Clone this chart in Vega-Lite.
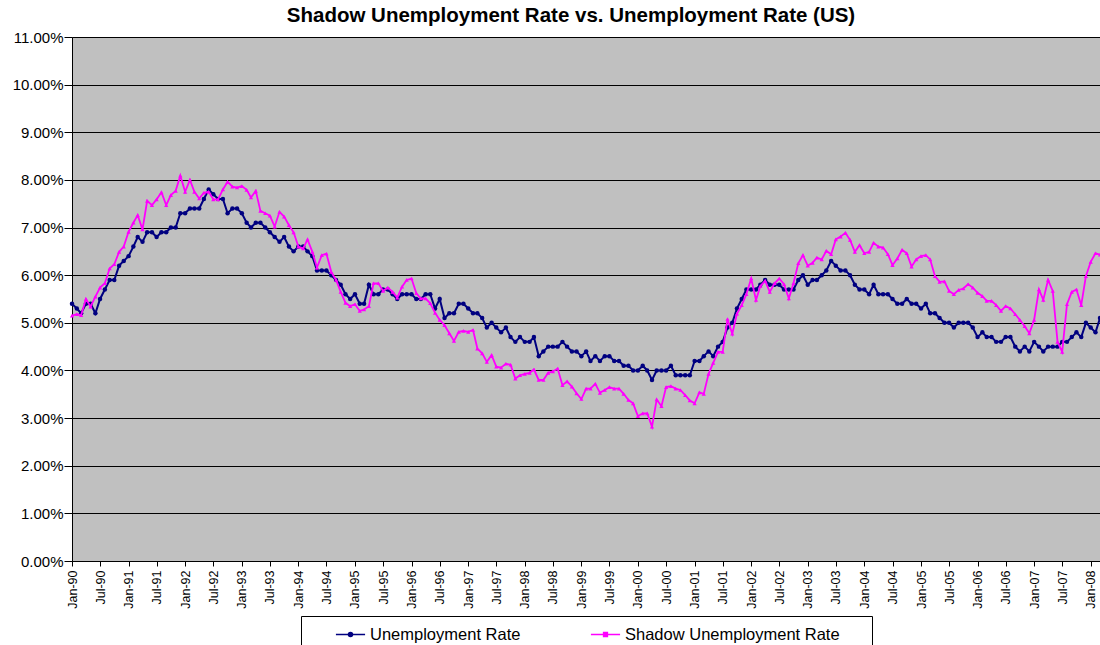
{
  "$schema": "https://vega.github.io/schema/vega-lite/v6.json",
  "width": 1028,
  "height": 524,
  "autosize": "none",
  "padding": {"left": 72, "top": 37, "right": 0, "bottom": 84},
  "background": "white",
  "config": {
    "font": "Liberation Sans",
    "view": {"fill": "#C0C0C0", "stroke": null},
    "axis": {"domainColor": "#000000", "tickColor": "#000000", "labelColor": "#000000", "gridColor": "#000000", "gridOpacity": 1, "gridWidth": 1, "labelFont": "Liberation Sans"}
  },
  "title": {
    "text": "Shadow Unemployment Rate vs. Unemployment Rate (US)",
    "fontSize": 20.5,
    "fontWeight": "bold",
    "font": "Liberation Sans",
    "color": "#000000",
    "anchor": "middle",
    "dx": -15,
    "dy": 25,
    "baseline": "alphabetic",
    "offset": 13
  },
  "data": {
    "values": [
      {"d":"1990-01-01","Unemployment Rate":5.4,"Shadow Unemployment Rate":5.15},
      {"d":"1990-02-01","Unemployment Rate":5.3,"Shadow Unemployment Rate":5.18},
      {"d":"1990-03-01","Unemployment Rate":5.2,"Shadow Unemployment Rate":5.16},
      {"d":"1990-04-01","Unemployment Rate":5.4,"Shadow Unemployment Rate":5.5},
      {"d":"1990-05-01","Unemployment Rate":5.4,"Shadow Unemployment Rate":5.34},
      {"d":"1990-06-01","Unemployment Rate":5.2,"Shadow Unemployment Rate":5.55},
      {"d":"1990-07-01","Unemployment Rate":5.5,"Shadow Unemployment Rate":5.74},
      {"d":"1990-08-01","Unemployment Rate":5.7,"Shadow Unemployment Rate":5.83},
      {"d":"1990-09-01","Unemployment Rate":5.9,"Shadow Unemployment Rate":6.14},
      {"d":"1990-10-01","Unemployment Rate":5.9,"Shadow Unemployment Rate":6.23},
      {"d":"1990-11-01","Unemployment Rate":6.2,"Shadow Unemployment Rate":6.49},
      {"d":"1990-12-01","Unemployment Rate":6.3,"Shadow Unemployment Rate":6.6},
      {"d":"1991-01-01","Unemployment Rate":6.4,"Shadow Unemployment Rate":6.91},
      {"d":"1991-02-01","Unemployment Rate":6.6,"Shadow Unemployment Rate":7.1},
      {"d":"1991-03-01","Unemployment Rate":6.8,"Shadow Unemployment Rate":7.26},
      {"d":"1991-04-01","Unemployment Rate":6.7,"Shadow Unemployment Rate":6.96},
      {"d":"1991-05-01","Unemployment Rate":6.9,"Shadow Unemployment Rate":7.56},
      {"d":"1991-06-01","Unemployment Rate":6.9,"Shadow Unemployment Rate":7.47},
      {"d":"1991-07-01","Unemployment Rate":6.8,"Shadow Unemployment Rate":7.59},
      {"d":"1991-08-01","Unemployment Rate":6.9,"Shadow Unemployment Rate":7.74},
      {"d":"1991-09-01","Unemployment Rate":6.9,"Shadow Unemployment Rate":7.47},
      {"d":"1991-10-01","Unemployment Rate":7.0,"Shadow Unemployment Rate":7.68},
      {"d":"1991-11-01","Unemployment Rate":7.0,"Shadow Unemployment Rate":7.77},
      {"d":"1991-12-01","Unemployment Rate":7.3,"Shadow Unemployment Rate":8.09},
      {"d":"1992-01-01","Unemployment Rate":7.3,"Shadow Unemployment Rate":7.75},
      {"d":"1992-02-01","Unemployment Rate":7.4,"Shadow Unemployment Rate":8.0},
      {"d":"1992-03-01","Unemployment Rate":7.4,"Shadow Unemployment Rate":7.75},
      {"d":"1992-04-01","Unemployment Rate":7.4,"Shadow Unemployment Rate":7.61},
      {"d":"1992-05-01","Unemployment Rate":7.6,"Shadow Unemployment Rate":7.73},
      {"d":"1992-06-01","Unemployment Rate":7.8,"Shadow Unemployment Rate":7.75},
      {"d":"1992-07-01","Unemployment Rate":7.7,"Shadow Unemployment Rate":7.59},
      {"d":"1992-08-01","Unemployment Rate":7.6,"Shadow Unemployment Rate":7.59},
      {"d":"1992-09-01","Unemployment Rate":7.6,"Shadow Unemployment Rate":7.8},
      {"d":"1992-10-01","Unemployment Rate":7.3,"Shadow Unemployment Rate":7.96},
      {"d":"1992-11-01","Unemployment Rate":7.4,"Shadow Unemployment Rate":7.86},
      {"d":"1992-12-01","Unemployment Rate":7.4,"Shadow Unemployment Rate":7.84},
      {"d":"1993-01-01","Unemployment Rate":7.3,"Shadow Unemployment Rate":7.87},
      {"d":"1993-02-01","Unemployment Rate":7.1,"Shadow Unemployment Rate":7.79},
      {"d":"1993-03-01","Unemployment Rate":7.0,"Shadow Unemployment Rate":7.63},
      {"d":"1993-04-01","Unemployment Rate":7.1,"Shadow Unemployment Rate":7.77},
      {"d":"1993-05-01","Unemployment Rate":7.1,"Shadow Unemployment Rate":7.35},
      {"d":"1993-06-01","Unemployment Rate":7.0,"Shadow Unemployment Rate":7.3},
      {"d":"1993-07-01","Unemployment Rate":6.9,"Shadow Unemployment Rate":7.25},
      {"d":"1993-08-01","Unemployment Rate":6.8,"Shadow Unemployment Rate":7.02},
      {"d":"1993-09-01","Unemployment Rate":6.7,"Shadow Unemployment Rate":7.33},
      {"d":"1993-10-01","Unemployment Rate":6.8,"Shadow Unemployment Rate":7.23},
      {"d":"1993-11-01","Unemployment Rate":6.6,"Shadow Unemployment Rate":7.05},
      {"d":"1993-12-01","Unemployment Rate":6.5,"Shadow Unemployment Rate":6.9},
      {"d":"1994-01-01","Unemployment Rate":6.6,"Shadow Unemployment Rate":6.6},
      {"d":"1994-02-01","Unemployment Rate":6.6,"Shadow Unemployment Rate":6.56},
      {"d":"1994-03-01","Unemployment Rate":6.5,"Shadow Unemployment Rate":6.75},
      {"d":"1994-04-01","Unemployment Rate":6.4,"Shadow Unemployment Rate":6.49},
      {"d":"1994-05-01","Unemployment Rate":6.1,"Shadow Unemployment Rate":6.16},
      {"d":"1994-06-01","Unemployment Rate":6.1,"Shadow Unemployment Rate":6.42},
      {"d":"1994-07-01","Unemployment Rate":6.1,"Shadow Unemployment Rate":6.45},
      {"d":"1994-08-01","Unemployment Rate":6.0,"Shadow Unemployment Rate":6.07},
      {"d":"1994-09-01","Unemployment Rate":5.9,"Shadow Unemployment Rate":5.9},
      {"d":"1994-10-01","Unemployment Rate":5.8,"Shadow Unemployment Rate":5.65},
      {"d":"1994-11-01","Unemployment Rate":5.6,"Shadow Unemployment Rate":5.42},
      {"d":"1994-12-01","Unemployment Rate":5.5,"Shadow Unemployment Rate":5.35},
      {"d":"1995-01-01","Unemployment Rate":5.6,"Shadow Unemployment Rate":5.39},
      {"d":"1995-02-01","Unemployment Rate":5.4,"Shadow Unemployment Rate":5.25},
      {"d":"1995-03-01","Unemployment Rate":5.4,"Shadow Unemployment Rate":5.28},
      {"d":"1995-04-01","Unemployment Rate":5.8,"Shadow Unemployment Rate":5.35},
      {"d":"1995-05-01","Unemployment Rate":5.6,"Shadow Unemployment Rate":5.83},
      {"d":"1995-06-01","Unemployment Rate":5.6,"Shadow Unemployment Rate":5.83},
      {"d":"1995-07-01","Unemployment Rate":5.7,"Shadow Unemployment Rate":5.67},
      {"d":"1995-08-01","Unemployment Rate":5.7,"Shadow Unemployment Rate":5.74},
      {"d":"1995-09-01","Unemployment Rate":5.6,"Shadow Unemployment Rate":5.65},
      {"d":"1995-10-01","Unemployment Rate":5.5,"Shadow Unemployment Rate":5.53},
      {"d":"1995-11-01","Unemployment Rate":5.6,"Shadow Unemployment Rate":5.76},
      {"d":"1995-12-01","Unemployment Rate":5.6,"Shadow Unemployment Rate":5.9},
      {"d":"1996-01-01","Unemployment Rate":5.6,"Shadow Unemployment Rate":5.93},
      {"d":"1996-02-01","Unemployment Rate":5.5,"Shadow Unemployment Rate":5.62},
      {"d":"1996-03-01","Unemployment Rate":5.5,"Shadow Unemployment Rate":5.51},
      {"d":"1996-04-01","Unemployment Rate":5.6,"Shadow Unemployment Rate":5.51},
      {"d":"1996-05-01","Unemployment Rate":5.6,"Shadow Unemployment Rate":5.41},
      {"d":"1996-06-01","Unemployment Rate":5.3,"Shadow Unemployment Rate":5.21},
      {"d":"1996-07-01","Unemployment Rate":5.5,"Shadow Unemployment Rate":5.06},
      {"d":"1996-08-01","Unemployment Rate":5.1,"Shadow Unemployment Rate":4.95},
      {"d":"1996-09-01","Unemployment Rate":5.2,"Shadow Unemployment Rate":4.78},
      {"d":"1996-10-01","Unemployment Rate":5.2,"Shadow Unemployment Rate":4.62},
      {"d":"1996-11-01","Unemployment Rate":5.4,"Shadow Unemployment Rate":4.81},
      {"d":"1996-12-01","Unemployment Rate":5.4,"Shadow Unemployment Rate":4.83},
      {"d":"1997-01-01","Unemployment Rate":5.3,"Shadow Unemployment Rate":4.81},
      {"d":"1997-02-01","Unemployment Rate":5.2,"Shadow Unemployment Rate":4.85},
      {"d":"1997-03-01","Unemployment Rate":5.2,"Shadow Unemployment Rate":4.46},
      {"d":"1997-04-01","Unemployment Rate":5.1,"Shadow Unemployment Rate":4.36},
      {"d":"1997-05-01","Unemployment Rate":4.9,"Shadow Unemployment Rate":4.18},
      {"d":"1997-06-01","Unemployment Rate":5.0,"Shadow Unemployment Rate":4.32},
      {"d":"1997-07-01","Unemployment Rate":4.9,"Shadow Unemployment Rate":4.08},
      {"d":"1997-08-01","Unemployment Rate":4.8,"Shadow Unemployment Rate":4.06},
      {"d":"1997-09-01","Unemployment Rate":4.9,"Shadow Unemployment Rate":4.14},
      {"d":"1997-10-01","Unemployment Rate":4.7,"Shadow Unemployment Rate":4.12},
      {"d":"1997-11-01","Unemployment Rate":4.6,"Shadow Unemployment Rate":3.83},
      {"d":"1997-12-01","Unemployment Rate":4.7,"Shadow Unemployment Rate":3.9},
      {"d":"1998-01-01","Unemployment Rate":4.6,"Shadow Unemployment Rate":3.93},
      {"d":"1998-02-01","Unemployment Rate":4.6,"Shadow Unemployment Rate":3.95},
      {"d":"1998-03-01","Unemployment Rate":4.7,"Shadow Unemployment Rate":4.02},
      {"d":"1998-04-01","Unemployment Rate":4.3,"Shadow Unemployment Rate":3.8},
      {"d":"1998-05-01","Unemployment Rate":4.4,"Shadow Unemployment Rate":3.8},
      {"d":"1998-06-01","Unemployment Rate":4.5,"Shadow Unemployment Rate":3.95},
      {"d":"1998-07-01","Unemployment Rate":4.5,"Shadow Unemployment Rate":3.98},
      {"d":"1998-08-01","Unemployment Rate":4.5,"Shadow Unemployment Rate":4.04},
      {"d":"1998-09-01","Unemployment Rate":4.6,"Shadow Unemployment Rate":3.69},
      {"d":"1998-10-01","Unemployment Rate":4.5,"Shadow Unemployment Rate":3.77},
      {"d":"1998-11-01","Unemployment Rate":4.4,"Shadow Unemployment Rate":3.66},
      {"d":"1998-12-01","Unemployment Rate":4.4,"Shadow Unemployment Rate":3.52},
      {"d":"1999-01-01","Unemployment Rate":4.3,"Shadow Unemployment Rate":3.4},
      {"d":"1999-02-01","Unemployment Rate":4.4,"Shadow Unemployment Rate":3.62},
      {"d":"1999-03-01","Unemployment Rate":4.2,"Shadow Unemployment Rate":3.62},
      {"d":"1999-04-01","Unemployment Rate":4.3,"Shadow Unemployment Rate":3.72},
      {"d":"1999-05-01","Unemployment Rate":4.2,"Shadow Unemployment Rate":3.53},
      {"d":"1999-06-01","Unemployment Rate":4.3,"Shadow Unemployment Rate":3.59},
      {"d":"1999-07-01","Unemployment Rate":4.3,"Shadow Unemployment Rate":3.65},
      {"d":"1999-08-01","Unemployment Rate":4.2,"Shadow Unemployment Rate":3.62},
      {"d":"1999-09-01","Unemployment Rate":4.2,"Shadow Unemployment Rate":3.62},
      {"d":"1999-10-01","Unemployment Rate":4.1,"Shadow Unemployment Rate":3.51},
      {"d":"1999-11-01","Unemployment Rate":4.1,"Shadow Unemployment Rate":3.38},
      {"d":"1999-12-01","Unemployment Rate":4.0,"Shadow Unemployment Rate":3.31},
      {"d":"2000-01-01","Unemployment Rate":4.0,"Shadow Unemployment Rate":3.04},
      {"d":"2000-02-01","Unemployment Rate":4.1,"Shadow Unemployment Rate":3.1},
      {"d":"2000-03-01","Unemployment Rate":4.0,"Shadow Unemployment Rate":3.1},
      {"d":"2000-04-01","Unemployment Rate":3.8,"Shadow Unemployment Rate":2.82},
      {"d":"2000-05-01","Unemployment Rate":4.0,"Shadow Unemployment Rate":3.39},
      {"d":"2000-06-01","Unemployment Rate":4.0,"Shadow Unemployment Rate":3.25},
      {"d":"2000-07-01","Unemployment Rate":4.0,"Shadow Unemployment Rate":3.65},
      {"d":"2000-08-01","Unemployment Rate":4.1,"Shadow Unemployment Rate":3.67},
      {"d":"2000-09-01","Unemployment Rate":3.9,"Shadow Unemployment Rate":3.62},
      {"d":"2000-10-01","Unemployment Rate":3.9,"Shadow Unemployment Rate":3.59},
      {"d":"2000-11-01","Unemployment Rate":3.9,"Shadow Unemployment Rate":3.48},
      {"d":"2000-12-01","Unemployment Rate":3.9,"Shadow Unemployment Rate":3.37},
      {"d":"2001-01-01","Unemployment Rate":4.2,"Shadow Unemployment Rate":3.31},
      {"d":"2001-02-01","Unemployment Rate":4.2,"Shadow Unemployment Rate":3.54},
      {"d":"2001-03-01","Unemployment Rate":4.3,"Shadow Unemployment Rate":3.51},
      {"d":"2001-04-01","Unemployment Rate":4.4,"Shadow Unemployment Rate":3.93},
      {"d":"2001-05-01","Unemployment Rate":4.3,"Shadow Unemployment Rate":4.16},
      {"d":"2001-06-01","Unemployment Rate":4.5,"Shadow Unemployment Rate":4.39},
      {"d":"2001-07-01","Unemployment Rate":4.6,"Shadow Unemployment Rate":4.39},
      {"d":"2001-08-01","Unemployment Rate":4.9,"Shadow Unemployment Rate":5.08},
      {"d":"2001-09-01","Unemployment Rate":5.0,"Shadow Unemployment Rate":4.77},
      {"d":"2001-10-01","Unemployment Rate":5.3,"Shadow Unemployment Rate":5.19},
      {"d":"2001-11-01","Unemployment Rate":5.5,"Shadow Unemployment Rate":5.37},
      {"d":"2001-12-01","Unemployment Rate":5.7,"Shadow Unemployment Rate":5.6},
      {"d":"2002-01-01","Unemployment Rate":5.7,"Shadow Unemployment Rate":5.93},
      {"d":"2002-02-01","Unemployment Rate":5.7,"Shadow Unemployment Rate":5.48},
      {"d":"2002-03-01","Unemployment Rate":5.8,"Shadow Unemployment Rate":5.77},
      {"d":"2002-04-01","Unemployment Rate":5.9,"Shadow Unemployment Rate":5.88},
      {"d":"2002-05-01","Unemployment Rate":5.8,"Shadow Unemployment Rate":5.65},
      {"d":"2002-06-01","Unemployment Rate":5.8,"Shadow Unemployment Rate":5.83},
      {"d":"2002-07-01","Unemployment Rate":5.8,"Shadow Unemployment Rate":5.93},
      {"d":"2002-08-01","Unemployment Rate":5.7,"Shadow Unemployment Rate":5.81},
      {"d":"2002-09-01","Unemployment Rate":5.7,"Shadow Unemployment Rate":5.51},
      {"d":"2002-10-01","Unemployment Rate":5.7,"Shadow Unemployment Rate":5.83},
      {"d":"2002-11-01","Unemployment Rate":5.9,"Shadow Unemployment Rate":6.25},
      {"d":"2002-12-01","Unemployment Rate":6.0,"Shadow Unemployment Rate":6.42},
      {"d":"2003-01-01","Unemployment Rate":5.8,"Shadow Unemployment Rate":6.2},
      {"d":"2003-02-01","Unemployment Rate":5.9,"Shadow Unemployment Rate":6.26},
      {"d":"2003-03-01","Unemployment Rate":5.9,"Shadow Unemployment Rate":6.37},
      {"d":"2003-04-01","Unemployment Rate":6.0,"Shadow Unemployment Rate":6.33},
      {"d":"2003-05-01","Unemployment Rate":6.1,"Shadow Unemployment Rate":6.51},
      {"d":"2003-06-01","Unemployment Rate":6.3,"Shadow Unemployment Rate":6.44},
      {"d":"2003-07-01","Unemployment Rate":6.2,"Shadow Unemployment Rate":6.75},
      {"d":"2003-08-01","Unemployment Rate":6.1,"Shadow Unemployment Rate":6.81},
      {"d":"2003-09-01","Unemployment Rate":6.1,"Shadow Unemployment Rate":6.89},
      {"d":"2003-10-01","Unemployment Rate":6.0,"Shadow Unemployment Rate":6.74},
      {"d":"2003-11-01","Unemployment Rate":5.8,"Shadow Unemployment Rate":6.49},
      {"d":"2003-12-01","Unemployment Rate":5.7,"Shadow Unemployment Rate":6.63},
      {"d":"2004-01-01","Unemployment Rate":5.7,"Shadow Unemployment Rate":6.46},
      {"d":"2004-02-01","Unemployment Rate":5.6,"Shadow Unemployment Rate":6.49},
      {"d":"2004-03-01","Unemployment Rate":5.8,"Shadow Unemployment Rate":6.68},
      {"d":"2004-04-01","Unemployment Rate":5.6,"Shadow Unemployment Rate":6.6},
      {"d":"2004-05-01","Unemployment Rate":5.6,"Shadow Unemployment Rate":6.58},
      {"d":"2004-06-01","Unemployment Rate":5.6,"Shadow Unemployment Rate":6.44},
      {"d":"2004-07-01","Unemployment Rate":5.5,"Shadow Unemployment Rate":6.21},
      {"d":"2004-08-01","Unemployment Rate":5.4,"Shadow Unemployment Rate":6.35},
      {"d":"2004-09-01","Unemployment Rate":5.4,"Shadow Unemployment Rate":6.53},
      {"d":"2004-10-01","Unemployment Rate":5.5,"Shadow Unemployment Rate":6.46},
      {"d":"2004-11-01","Unemployment Rate":5.4,"Shadow Unemployment Rate":6.18},
      {"d":"2004-12-01","Unemployment Rate":5.4,"Shadow Unemployment Rate":6.33},
      {"d":"2005-01-01","Unemployment Rate":5.3,"Shadow Unemployment Rate":6.4},
      {"d":"2005-02-01","Unemployment Rate":5.4,"Shadow Unemployment Rate":6.42},
      {"d":"2005-03-01","Unemployment Rate":5.2,"Shadow Unemployment Rate":6.33},
      {"d":"2005-04-01","Unemployment Rate":5.2,"Shadow Unemployment Rate":5.98},
      {"d":"2005-05-01","Unemployment Rate":5.1,"Shadow Unemployment Rate":5.86},
      {"d":"2005-06-01","Unemployment Rate":5.0,"Shadow Unemployment Rate":5.87},
      {"d":"2005-07-01","Unemployment Rate":5.0,"Shadow Unemployment Rate":5.67},
      {"d":"2005-08-01","Unemployment Rate":4.9,"Shadow Unemployment Rate":5.6},
      {"d":"2005-09-01","Unemployment Rate":5.0,"Shadow Unemployment Rate":5.69},
      {"d":"2005-10-01","Unemployment Rate":5.0,"Shadow Unemployment Rate":5.72},
      {"d":"2005-11-01","Unemployment Rate":5.0,"Shadow Unemployment Rate":5.81},
      {"d":"2005-12-01","Unemployment Rate":4.9,"Shadow Unemployment Rate":5.74},
      {"d":"2006-01-01","Unemployment Rate":4.7,"Shadow Unemployment Rate":5.63},
      {"d":"2006-02-01","Unemployment Rate":4.8,"Shadow Unemployment Rate":5.56},
      {"d":"2006-03-01","Unemployment Rate":4.7,"Shadow Unemployment Rate":5.46},
      {"d":"2006-04-01","Unemployment Rate":4.7,"Shadow Unemployment Rate":5.46},
      {"d":"2006-05-01","Unemployment Rate":4.6,"Shadow Unemployment Rate":5.37},
      {"d":"2006-06-01","Unemployment Rate":4.6,"Shadow Unemployment Rate":5.25},
      {"d":"2006-07-01","Unemployment Rate":4.7,"Shadow Unemployment Rate":5.35},
      {"d":"2006-08-01","Unemployment Rate":4.7,"Shadow Unemployment Rate":5.3},
      {"d":"2006-09-01","Unemployment Rate":4.5,"Shadow Unemployment Rate":5.18},
      {"d":"2006-10-01","Unemployment Rate":4.4,"Shadow Unemployment Rate":5.06},
      {"d":"2006-11-01","Unemployment Rate":4.5,"Shadow Unemployment Rate":4.93},
      {"d":"2006-12-01","Unemployment Rate":4.4,"Shadow Unemployment Rate":4.78},
      {"d":"2007-01-01","Unemployment Rate":4.6,"Shadow Unemployment Rate":5.06},
      {"d":"2007-02-01","Unemployment Rate":4.5,"Shadow Unemployment Rate":5.7},
      {"d":"2007-03-01","Unemployment Rate":4.4,"Shadow Unemployment Rate":5.48},
      {"d":"2007-04-01","Unemployment Rate":4.5,"Shadow Unemployment Rate":5.9},
      {"d":"2007-05-01","Unemployment Rate":4.5,"Shadow Unemployment Rate":5.67},
      {"d":"2007-06-01","Unemployment Rate":4.5,"Shadow Unemployment Rate":4.6},
      {"d":"2007-07-01","Unemployment Rate":4.6,"Shadow Unemployment Rate":4.39},
      {"d":"2007-08-01","Unemployment Rate":4.6,"Shadow Unemployment Rate":5.39},
      {"d":"2007-09-01","Unemployment Rate":4.7,"Shadow Unemployment Rate":5.65},
      {"d":"2007-10-01","Unemployment Rate":4.8,"Shadow Unemployment Rate":5.7},
      {"d":"2007-11-01","Unemployment Rate":4.7,"Shadow Unemployment Rate":5.37},
      {"d":"2007-12-01","Unemployment Rate":5.0,"Shadow Unemployment Rate":5.98},
      {"d":"2008-01-01","Unemployment Rate":4.9,"Shadow Unemployment Rate":6.28},
      {"d":"2008-02-01","Unemployment Rate":4.8,"Shadow Unemployment Rate":6.46},
      {"d":"2008-03-01","Unemployment Rate":5.1,"Shadow Unemployment Rate":6.43}
    ]
  },
  "transform": [
    {"fold": ["Unemployment Rate", "Shadow Unemployment Rate"], "as": ["series", "rate"]}
  ],
  "encoding": {
    "x": {
      "field": "d",
      "type": "temporal",
      "scale": {"type": "utc", "domain": [{"year": 1990, "month": 1, "date": 1, "utc": true}, {"year": 2008, "month": 3, "date": 1, "utc": true}], "nice": false},
      "axis": {
        "title": null,
        "grid": false,
        "format": "%b-%y",
        "tickCount": {"interval": "month", "step": 6},
        "labelAngle": 270,
        "labelFontSize": 12.5,
        "tickSize": 5,
        "labelPadding": 4,
        "labelOverlap": false,
        "labelFlush": false
      }
    },
    "y": {
      "field": "rate",
      "type": "quantitative",
      "scale": {"domain": [0, 11], "nice": false, "zero": true},
      "axis": {
        "title": null,
        "values": [0, 1, 2, 3, 4, 5, 6, 7, 8, 9, 10, 11],
        "labelExpr": "format(datum.value / 100, '.2%')",
        "labelFontSize": 15,
        "tickSize": 8,
        "labelPadding": 1,
        "grid": true
      }
    },
    "color": {
      "field": "series",
      "type": "nominal",
      "scale": {"domain": ["Unemployment Rate", "Shadow Unemployment Rate"], "range": ["#000080", "#FF00FF"]},
      "legend": {
        "orient": "none",
        "legendX": 229,
        "legendY": 579,
        "direction": "horizontal",
        "title": " ",
        "titleOrient": "left",
        "titleFontSize": 16,
        "titlePadding": 31,
        "padding": 3,
        "strokeColor": "#000000",
        "fillColor": "#FFFFFF",
        "labelFontSize": 16.5,
        "labelFont": "Liberation Sans",
        "labelColor": "#000000",
        "labelOffset": 4,
        "labelLimit": 400,
        "columnPadding": 66,
        "symbolSize": 850,
        "symbolStrokeWidth": 1.5,
        "labelExpr": "datum.label == 'Shadow Unemployment Rate' ? datum.label + '\u2800 \u2800' : datum.label",
        "encode": {
          "symbols": {
            "update": {
              "shape": {"signal": "datum.value == 'Unemployment Rate' ? 'M-1,0H1M-0.14,0A0.14,0.14,0,1,0,0.14,0A0.14,0.14,0,1,0,-0.14,0Z' : 'M-1,0H1M-0.13,-0.13H0.13V0.13H-0.13Z'"},
              "stroke": {"scale": "color", "field": "value"},
              "fill": {"scale": "color", "field": "value"},
              "strokeWidth": {"value": 1.5},
              "opacity": {"value": 1}
            }
          }
        }
      }
    }
  },
  "layer": [
    {
      "transform": [{"filter": "datum.series == 'Unemployment Rate'"}],
      "mark": {"type": "line", "strokeWidth": 2}
    },
    {
      "transform": [{"filter": "datum.series == 'Unemployment Rate'"}],
      "mark": {"type": "point", "shape": "circle", "filled": true, "size": 20, "opacity": 1}
    },
    {
      "transform": [{"filter": "datum.series == 'Shadow Unemployment Rate'"}],
      "mark": {"type": "line", "strokeWidth": 1.8}
    },
    {
      "transform": [{"filter": "datum.series == 'Shadow Unemployment Rate'"}],
      "mark": {"type": "point", "shape": "triangle-up", "filled": true, "size": 18, "opacity": 1}
    }
  ]
}
